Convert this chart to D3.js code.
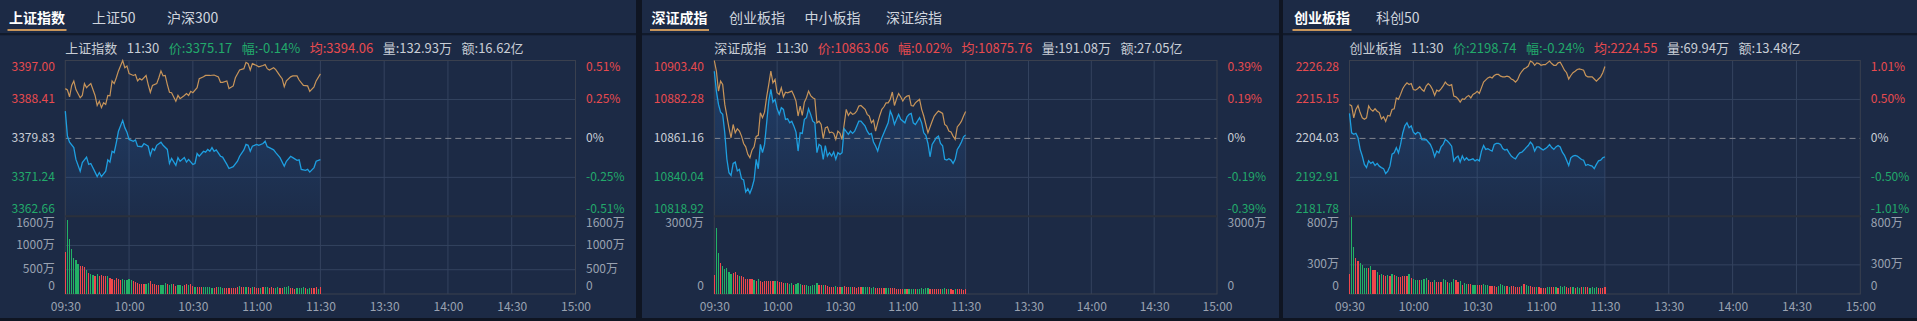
<!DOCTYPE html>
<html>
<head>
<meta charset="utf-8">
<script src="https://cdn.jsdelivr.net/npm/d3@7"></script>
<style>
  html, body { margin: 0; padding: 0; background: #0f1522; overflow: hidden; }
  svg { display: block; font-family: "Noto Sans CJK SC", "Noto Sans", sans-serif; }
</style>
</head>
<body>
<div id="chart"></div>
<script>
const W = 1917
const H = 321

// shared time axis: 240 trading minutes, labels every 30 minutes
const timeTicks = [0, 30, 60, 90, 120, 150, 180, 210, 240]
const timeLabels = ["09:30", "10:00", "10:30", "11:00", "11:30", "13:30", "14:00", "14:30", "15:00"]

// ---------- 上证指数 ----------
const shTabs = ["上证指数", "上证50", "沪深300"]
const shInfo = [["上证指数", "n"], ["11:30", "n"], ["价:3375.17", "g"], ["幅:-0.14%", "g"], ["均:3394.06", "r"], ["量:132.93万", "n"], ["额:16.62亿", "n"]]
const shPriceTicks = [3397.00, 3388.41, 3379.83, 3371.24, 3362.66]
const shPctTicks = ["0.51%", "0.25%", "0%", "-0.25%", "-0.51%"]
const shVolTicks = [1600, 1000, 500, 0]
const shPrice = [[0,3385.85],[1,3380.35],[2,3379.0],[4,3377.8],[5,3375.2],[7,3372.6],[8,3374.5],[10,3375.7],[11,3374.1],[12,3374.3],[14,3372.4],[15,3371.4],[16,3372.3],[17,3371.4],[19,3372.6],[20,3375.1],[21,3374.6],[22,3377.0],[23,3376.7],[24,3378.9],[25,3381.4],[27,3383.8],[28,3382.2],[29,3381.2],[30,3379.6],[32,3379.2],[33,3379.5],[34,3378.1],[36,3378.0],[37,3378.7],[39,3378.1],[40,3376.1],[41,3377.6],[42,3377.2],[43,3378.3],[45,3379.0],[46,3378.3],[48,3377.4],[49,3374.3],[50,3375.4],[52,3373.9],[53,3375.6],[54,3374.8],[56,3375.6],[57,3374.6],[58,3375.2],[60,3374.1],[61,3374.3],[62,3376.5],[63,3375.9],[65,3377.0],[66,3376.8],[67,3377.4],[68,3377.0],[69,3377.8],[70,3377.0],[71,3377.3],[73,3375.9],[74,3375.7],[76,3374.1],[77,3373.2],[79,3373.6],[81,3374.8],[82,3375.9],[84,3377.3],[85,3378.5],[86,3378.3],[87,3377.0],[88,3378.1],[90,3378.5],[91,3378.3],[93,3378.7],[94,3379.2],[95,3378.0],[96,3377.8],[98,3377.3],[99,3376.7],[101,3375.6],[103,3373.7],[104,3374.8],[106,3375.9],[107,3375.6],[109,3375.0],[110,3375.1],[111,3373.0],[113,3372.8],[114,3373.0],[115,3372.4],[117,3373.4],[118,3374.8],[120,3375.17]]
const shAvg = [[0,3390.8],[1,3390.5],[2,3389.0],[3,3391.5],[4,3392.5],[5,3390.6],[7,3388.8],[8,3389.3],[9,3391.9],[10,3391.0],[11,3391.5],[12,3391.9],[13,3390.6],[14,3389.3],[15,3387.1],[16,3388.0],[17,3386.6],[18,3387.7],[19,3387.3],[20,3389.3],[21,3389.2],[22,3392.5],[23,3391.9],[24,3393.2],[25,3394.7],[27,3397.0],[28,3395.4],[29,3395.8],[30,3394.1],[32,3393.7],[33,3393.9],[34,3392.5],[35,3393.0],[36,3392.7],[38,3393.7],[39,3391.7],[40,3390.0],[41,3391.5],[43,3391.9],[44,3393.2],[45,3394.7],[46,3393.6],[47,3393.7],[48,3391.7],[49,3390.0],[50,3389.9],[52,3388.0],[53,3389.3],[54,3388.6],[56,3389.3],[57,3389.7],[58,3389.3],[59,3390.2],[60,3389.9],[62,3391.0],[63,3393.0],[65,3393.4],[66,3393.7],[68,3393.7],[70,3393.8],[72,3393.4],[73,3392.2],[74,3392.2],[76,3392.5],[77,3390.8],[79,3391.4],[80,3393.2],[82,3394.9],[84,3395.2],[85,3396.6],[86,3396.3],[87,3394.9],[88,3396.3],[90,3395.9],[91,3395.6],[93,3395.9],[94,3396.1],[95,3395.2],[96,3394.9],[98,3395.4],[99,3395.0],[101,3393.6],[102,3393.0],[103,3391.2],[104,3392.5],[106,3393.4],[107,3393.6],[109,3393.6],[110,3392.7],[112,3391.5],[114,3391.4],[115,3390.2],[117,3391.2],[118,3392.5],[120,3394.06]]
// volume per minute, 万
const shVol = [872,1514,1129,919,737,690,622,568,568,554,487,433,419,399,365,419,379,385,379,365,379,331,311,297,331,311,297,311,297,297,311,297,264,243,230,210,216,203,210,230,264,196,196,183,176,176,176,230,196,189,196,203,162,189,183,169,176,203,176,203,162,149,149,149,142,142,142,149,142,128,128,135,142,135,128,122,122,128,122,122,128,135,162,142,135,135,142,128,142,135,122,128,128,135,142,135,122,135,122,128,142,122,122,149,142,162,122,122,108,115,115,122,149,115,108,115,115,115,149,108,135]
const shVolColor = "rggggggrrrgrggrgrrrrgrrrrrrgggggrrrrrrggrrrrrgggrggrrgggrrgrrgrrrgggggrrgggrrrrrrrgrrgrrgrrrgrggrrrggrrgggrrrggggrggrrrgr"

// ---------- 深证成指 ----------
const szTabs = ["深证成指", "创业板指", "中小板指", "深证综指"]
const szInfo = [["深证成指", "n"], ["11:30", "n"], ["价:10863.06", "r"], ["幅:0.02%", "r"], ["均:10875.76", "r"], ["量:191.08万", "n"], ["额:27.05亿", "n"]]
const szPriceTicks = [10903.40, 10882.28, 10861.16, 10840.04, 10818.92]
const szPctTicks = ["0.39%", "0.19%", "0%", "-0.19%", "-0.39%"]
const szVolTicks = [3000, 0]
const szPrice = [[0,10897.6],[1,10886.8],[2,10879.6],[3,10875.4],[4,10874.2],[5,10864.2],[6,10850.0],[7,10842.6],[8,10841.1],[9,10847.6],[10,10848.3],[11,10843.5],[12,10844.4],[13,10839.3],[14,10838.6],[15,10832.1],[16,10833.9],[17,10831.4],[18,10834.4],[19,10838.6],[20,10849.8],[21,10844.7],[22,10857.9],[23,10853.4],[24,10857.9],[25,10869.6],[26,10881.4],[27,10887.7],[28,10880.8],[29,10882.3],[30,10877.2],[31,10874.2],[32,10877.8],[33,10876.9],[34,10871.5],[35,10871.8],[36,10869.6],[37,10870.5],[38,10867.8],[39,10864.6],[40,10854.3],[41,10864.2],[42,10863.9],[43,10871.5],[44,10872.4],[45,10877.2],[46,10874.2],[47,10870.5],[48,10869.6],[49,10853.4],[50,10857.9],[51,10857.0],[52,10849.8],[53,10857.2],[54,10851.6],[55,10853.4],[56,10851.6],[57,10853.8],[58,10849.8],[59,10853.4],[60,10852.5],[61,10853.4],[62,10866.4],[64,10863.3],[65,10865.1],[66,10863.9],[67,10865.1],[68,10867.8],[69,10870.5],[70,10870.5],[72,10867.8],[73,10865.1],[74,10863.3],[75,10863.9],[76,10859.2],[77,10857.0],[78,10854.3],[79,10858.4],[80,10861.5],[81,10864.2],[82,10866.9],[83,10869.6],[84,10876.0],[85,10873.3],[86,10868.7],[87,10871.5],[88,10874.2],[89,10871.5],[91,10869.6],[92,10872.9],[93,10874.2],[94,10874.7],[95,10869.6],[96,10868.7],[97,10870.5],[98,10872.4],[99,10869.6],[100,10864.2],[101,10862.8],[102,10858.4],[103,10851.2],[104,10857.9],[105,10859.7],[106,10861.5],[107,10862.4],[108,10858.4],[109,10857.2],[110,10849.8],[111,10849.4],[112,10850.1],[113,10849.4],[114,10847.6],[115,10849.8],[116,10855.2],[117,10857.0],[118,10859.2],[119,10862.0],[120,10863.06]]
const szAvg = [[0,10903.4],[1,10897.6],[2,10886.8],[3,10892.2],[4,10890.4],[5,10879.6],[6,10873.3],[7,10866.9],[8,10861.5],[9,10868.7],[10,10864.2],[11,10866.4],[12,10865.1],[13,10862.4],[14,10858.4],[15,10856.6],[16,10852.5],[17,10850.7],[18,10854.8],[19,10856.6],[20,10862.2],[21,10862.8],[22,10875.1],[23,10872.4],[24,10875.4],[25,10883.7],[26,10890.4],[27,10897.6],[28,10891.3],[29,10893.1],[30,10885.9],[31,10885.0],[32,10888.6],[33,10883.7],[34,10886.2],[35,10885.9],[37,10886.8],[38,10884.4],[39,10881.4],[40,10873.3],[41,10878.7],[42,10873.6],[43,10880.8],[44,10883.2],[45,10886.8],[46,10884.4],[47,10883.2],[48,10882.6],[49,10869.6],[50,10870.5],[51,10868.7],[52,10861.0],[53,10866.9],[54,10867.4],[55,10864.2],[56,10864.6],[57,10863.9],[58,10860.6],[59,10865.1],[60,10863.9],[61,10860.6],[62,10868.7],[63,10876.9],[64,10873.6],[65,10875.4],[66,10874.2],[67,10874.7],[68,10876.0],[69,10878.7],[70,10879.0],[72,10876.9],[73,10874.2],[74,10873.3],[75,10869.6],[76,10871.0],[77,10865.1],[78,10869.6],[79,10873.6],[80,10876.9],[81,10878.3],[82,10880.4],[83,10880.4],[84,10882.3],[85,10886.3],[86,10879.0],[87,10882.6],[88,10885.5],[89,10883.7],[90,10881.4],[91,10883.2],[92,10884.1],[93,10884.4],[94,10879.0],[95,10878.7],[96,10880.4],[97,10881.4],[98,10882.3],[99,10876.9],[100,10873.3],[101,10868.7],[102,10864.2],[104,10870.5],[105,10873.3],[106,10874.7],[107,10876.0],[108,10875.4],[109,10874.7],[110,10868.7],[111,10867.8],[112,10865.1],[113,10864.6],[114,10862.4],[115,10860.6],[116,10867.4],[117,10868.7],[118,10870.5],[119,10873.3],[120,10875.76]]
const szVol = [734,2563,1597,1211,1082,953,1005,850,760,798,850,721,695,695,670,592,567,567,567,541,502,567,502,464,489,502,489,489,502,502,489,476,464,412,438,412,386,412,361,399,438,373,335,335,335,309,309,335,361,412,335,361,335,335,309,283,283,283,309,283,283,283,309,283,270,258,258,258,245,270,270,258,283,258,258,245,258,245,245,232,245,232,245,232,219,232,219,206,206,193,206,193,206,180,193,180,193,206,180,219,206,232,245,206,206,193,180,180,193,180,219,193,206,180,168,206,180,180,180,168,193]
const szVolColor = "rggrgggggrrrgrrrrrrgrgrrrrrrrgrrrrgrggrgggrrggggggrrgrrrrrgrrgrrrgrrrrrgggrggrrrrrggrrrrrrrgrgggrggggggrrrrrrggrgrrgrrrrr"

// ---------- 创业板指 ----------
const cyTabs = ["创业板指", "科创50"]
const cyInfo = [["创业板指", "n"], ["11:30", "n"], ["价:2198.74", "g"], ["幅:-0.24%", "g"], ["均:2224.55", "r"], ["量:69.94万", "n"], ["额:13.48亿", "n"]]
const cyPriceTicks = [2226.28, 2215.15, 2204.03, 2192.91, 2181.78]
const cyPctTicks = ["1.01%", "0.50%", "0%", "-0.50%", "-1.01%"]
const cyVolTicks = [800, 300, 0]
const cyPrice = [[0,2211.16],[1,2205.6],[2,2205.2],[3,2205.5],[4,2204.2],[5,2200.9],[6,2199.0],[7,2196.6],[8,2195.7],[9,2197.6],[10,2196.9],[11,2197.3],[12,2196.3],[13,2196.9],[14,2196.1],[15,2195.7],[16,2195.4],[17,2194.0],[18,2194.7],[19,2196.1],[20,2199.5],[21,2199.9],[22,2201.4],[23,2199.9],[24,2202.3],[25,2205.5],[26,2207.6],[27,2208.5],[28,2207.1],[29,2207.6],[30,2205.8],[31,2205.2],[32,2205.8],[33,2205.5],[34,2203.7],[35,2203.6],[36,2203.7],[37,2203.0],[38,2202.3],[39,2200.9],[40,2198.8],[41,2200.4],[42,2199.9],[43,2201.6],[44,2202.3],[45,2203.7],[46,2203.3],[47,2202.6],[48,2201.8],[49,2197.6],[50,2198.5],[51,2199.0],[52,2197.3],[53,2199.0],[54,2197.8],[55,2198.5],[56,2197.8],[57,2198.0],[58,2198.2],[59,2197.6],[60,2198.0],[61,2197.6],[62,2200.4],[63,2202.0],[64,2200.9],[65,2201.1],[66,2200.7],[67,2200.4],[68,2202.3],[69,2202.6],[70,2202.6],[71,2202.3],[72,2201.1],[73,2200.7],[74,2200.9],[75,2199.9],[76,2199.0],[77,2198.5],[78,2198.2],[79,2199.2],[80,2199.9],[81,2200.1],[82,2200.7],[83,2201.4],[84,2202.0],[85,2203.0],[86,2202.3],[87,2200.4],[88,2201.6],[89,2201.6],[90,2201.1],[91,2200.7],[92,2201.1],[93,2201.6],[94,2202.3],[95,2201.4],[96,2200.9],[97,2201.6],[98,2202.0],[99,2201.6],[100,2200.1],[101,2199.2],[102,2197.8],[103,2196.3],[104,2198.5],[105,2199.0],[106,2199.2],[107,2199.0],[108,2198.5],[109,2198.0],[110,2197.8],[111,2196.3],[112,2196.6],[113,2196.3],[114,2196.1],[115,2195.4],[116,2196.6],[117,2197.6],[118,2197.8],[119,2198.5],[120,2198.74]]
const cyAvg = [[0,2213.7],[1,2213.3],[2,2209.9],[3,2212.3],[4,2213.4],[5,2211.4],[6,2209.9],[7,2209.5],[8,2209.9],[9,2213.3],[10,2212.3],[11,2211.8],[12,2212.5],[13,2211.8],[14,2211.4],[15,2209.6],[16,2210.2],[17,2208.9],[18,2210.6],[19,2210.4],[20,2212.3],[21,2212.5],[22,2215.6],[23,2215.2],[24,2216.6],[25,2218.2],[26,2219.2],[27,2219.9],[28,2219.4],[29,2219.7],[30,2218.0],[31,2217.8],[32,2218.2],[33,2218.8],[34,2218.0],[35,2217.5],[36,2219.0],[37,2219.7],[38,2219.1],[39,2218.0],[40,2216.3],[41,2217.8],[42,2217.5],[43,2218.2],[44,2219.0],[45,2220.1],[46,2219.4],[47,2219.1],[48,2219.4],[49,2216.1],[50,2215.9],[51,2215.3],[52,2214.4],[53,2215.3],[54,2215.2],[55,2215.9],[56,2216.3],[57,2215.6],[58,2216.6],[59,2216.9],[60,2217.5],[61,2216.9],[63,2220.1],[65,2221.3],[66,2221.6],[67,2221.3],[68,2222.0],[69,2222.3],[70,2222.3],[71,2221.8],[72,2221.6],[73,2221.6],[74,2221.8],[75,2221.6],[76,2221.0],[77,2220.7],[78,2220.1],[79,2220.8],[80,2222.3],[81,2223.2],[82,2223.9],[83,2224.2],[84,2224.7],[85,2226.1],[86,2225.8],[87,2224.9],[88,2225.6],[89,2225.4],[90,2224.9],[91,2225.1],[92,2225.1],[93,2225.6],[94,2226.1],[95,2225.4],[96,2224.9],[97,2224.9],[98,2225.6],[99,2225.8],[100,2224.7],[101,2223.5],[102,2222.8],[103,2221.0],[104,2222.0],[105,2222.8],[106,2223.2],[107,2223.7],[108,2223.9],[109,2223.7],[110,2223.5],[111,2222.0],[112,2221.6],[113,2221.6],[114,2221.6],[115,2221.0],[116,2220.4],[117,2221.0],[118,2221.6],[119,2222.8],[120,2224.55]]
const cyVol = [202,789,479,374,344,324,297,270,263,270,290,243,243,222,192,209,195,189,195,182,202,195,189,175,175,182,189,182,202,169,155,142,142,148,142,158,169,148,128,128,142,128,128,121,155,142,128,115,121,155,142,128,135,94,115,108,101,98,94,88,94,94,88,108,94,88,81,81,81,74,81,108,88,81,81,74,81,81,74,74,71,81,108,94,81,81,74,67,67,67,61,61,61,67,74,67,67,74,64,81,74,81,67,61,67,71,61,67,61,67,74,67,71,64,74,64,67,61,61,61,67]
const cyVolColor = "rggrrggggrgrrgrgrrgrgrgrrrrrgrgggrgggrrrgrrrggrgggrrgrggrrggrrrgggrrrrggggrgrrrrrgrggrrrgrrrrggrrgrgggrrrgrggrgrrggggrrrr"

// colours
const C = {
  page: "#0f1522", panel: "#1c2a45", sep: "#111a2b",
  red: "#e84a4f", green: "#22a96b", neutral: "#c9ced6", axis: "#9aa2b1",
  grid: "#34435f", frame: "#3a404e", price: "#1e9fe0", avg: "#c8955a",
  barRed: "#f0474b", barGreen: "#23b166", tab: "#c8955a"
}
const textColor = k => k === "r" ? C.red : k === "g" ? C.green : C.neutral
const tickColorKeys = ["r", "r", "n", "g", "g"]

// layout for the three panels
const panels = [
  { left: 0, right: 636, plotL: 65.3, plotR: 575.5, tabX: [9, 92, 167], tabs: shTabs, info: shInfo,
    priceTicks: shPriceTicks, pctTicks: shPctTicks, volTicks: shVolTicks, price: shPrice, avg: shAvg, vol: shVol, volColor: shVolColor },
  { left: 642, right: 1279, plotL: 714.3, plotR: 1217, tabX: [651.5, 729, 804.5, 886], tabs: szTabs, info: szInfo,
    priceTicks: szPriceTicks, pctTicks: szPctTicks, volTicks: szVolTicks, price: szPrice, avg: szAvg, vol: szVol, volColor: szVolColor },
  { left: 1283, right: 1917, plotL: 1349.5, plotR: 1860.3, tabX: [1294, 1376], tabs: cyTabs, info: cyInfo,
    priceTicks: cyPriceTicks, pctTicks: cyPctTicks, volTicks: cyVolTicks, price: cyPrice, avg: cyAvg, vol: cyVol, volColor: cyVolColor }
]

const priceTop = 60.5, priceBottom = 216.3, volBottom = 294

const svg = d3.select("#chart").append("svg")
  .attr("width", W).attr("height", H)

svg.append("rect").attr("width", W).attr("height", H).attr("fill", C.page)
const defs = svg.append("defs")

panels.forEach((p, k) => {
  const g = svg.append("g")

  g.append("rect")
    .attr("x", p.left).attr("y", 0)
    .attr("width", p.right - p.left).attr("height", 318)
    .attr("fill", C.panel)

  g.append("rect")
    .attr("x", p.left).attr("y", 33)
    .attr("width", p.right - p.left).attr("height", 2.3)
    .attr("fill", C.sep)

  // tabs
  p.tabs.forEach((t, i) => {
    const txt = g.append("text")
      .attr("x", p.tabX[i]).attr("y", 17)
      .attr("dominant-baseline", "central")
      .attr("font-size", 14)
      .attr("font-weight", i === 0 ? 700 : 400)
      .attr("fill", i === 0 ? "#ffffff" : "#cfd5de")
      .text(t)
    if (i === 0) {
      const len = txt.node().getComputedTextLength()
      g.append("rect")
        .attr("x", p.tabX[i] - 1.5).attr("y", 29)
        .attr("width", len + 3).attr("height", 2)
        .attr("fill", C.tab)
    }
  })

  // info line
  const info = g.append("text")
    .attr("x", p.plotL).attr("y", 47)
    .attr("dominant-baseline", "central")
    .attr("font-size", 13)
  p.info.forEach((s, i) => {
    info.append("tspan")
      .attr("dx", i === 0 ? 0 : 9.5)
      .attr("fill", textColor(s[1]))
      .text(s[0])
  })

  // scales
  const x = d3.scaleLinear().domain([0, 240]).range([p.plotL, p.plotR])
  const y = d3.scaleLinear()
    .domain([p.priceTicks[p.priceTicks.length - 1], p.priceTicks[0]])
    .range([priceBottom, priceTop])
  const yv = d3.scaleLinear().domain([0, p.volTicks[0]]).range([volBottom, priceBottom])

  // grid
  const grid = g.append("g").attr("stroke", C.grid).attr("stroke-width", 1)
  timeTicks.slice(1, -1).forEach(t => {
    grid.append("line")
      .attr("x1", x(t)).attr("x2", x(t))
      .attr("y1", priceTop).attr("y2", volBottom)
  })
  ;[p.priceTicks[1], p.priceTicks[3]].forEach(v => {
    grid.append("line")
      .attr("x1", p.plotL).attr("x2", p.plotR)
      .attr("y1", y(v)).attr("y2", y(v))
  })
  p.volTicks.slice(1, -1).forEach(v => {
    grid.append("line")
      .attr("x1", p.plotL).attr("x2", p.plotR)
      .attr("y1", yv(v)).attr("y2", yv(v))
  })

  // area under price line
  const gradId = "grad" + k
  const grad = defs.append("linearGradient")
    .attr("id", gradId)
    .attr("gradientUnits", "userSpaceOnUse")
    .attr("x1", 0).attr("x2", 0).attr("y1", priceTop).attr("y2", priceBottom)
  grad.append("stop").attr("offset", 0).attr("stop-color", "#2a6bb8").attr("stop-opacity", 0.32)
  grad.append("stop").attr("offset", 1).attr("stop-color", "#2a6bb8").attr("stop-opacity", 0.04)

  g.append("path")
    .datum(p.price)
    .attr("fill", `url(#${gradId})`)
    .attr("d", d3.area().x(d => x(d[0])).y0(priceBottom).y1(d => y(d[1])))

  // previous close
  g.append("line")
    .attr("x1", p.plotL).attr("x2", p.plotR)
    .attr("y1", y(p.priceTicks[2])).attr("y2", y(p.priceTicks[2]))
    .attr("stroke", "#80858f").attr("stroke-dasharray", "6,4")

  // frame
  g.append("rect")
    .attr("x", p.plotL).attr("y", priceTop)
    .attr("width", p.plotR - p.plotL).attr("height", volBottom - priceTop)
    .attr("fill", "none").attr("stroke", C.frame)
  g.append("line")
    .attr("x1", p.plotL).attr("x2", p.plotR)
    .attr("y1", priceBottom).attr("y2", priceBottom)
    .attr("stroke", "#2b303b").attr("stroke-width", 2)

  // lines
  const line = d3.line().x(d => x(d[0])).y(d => y(d[1]))
  g.append("path").datum(p.avg)
    .attr("fill", "none").attr("stroke", C.avg).attr("stroke-width", 1.2)
    .attr("d", line)
  g.append("path").datum(p.price)
    .attr("fill", "none").attr("stroke", C.price).attr("stroke-width", 1.3)
    .attr("d", line)

  // volume bars
  g.append("g").selectAll("rect")
    .data(p.vol)
    .join("rect")
      .attr("x", (d, i) => x(i) - 0.6)
      .attr("width", 1.2)
      .attr("y", d => yv(d))
      .attr("height", d => volBottom - yv(d))
      .attr("shape-rendering", "crispEdges")
      .attr("fill", (d, i) => p.volColor[i] === "g" ? C.barGreen : C.barRed)

  // price axes (left values, right percent)
  const yOffset = (i, n) => i === 0 ? 6.5 : i === n - 1 ? -8 : -1
  const styleAxis = (sel, colorFn, n) => {
    sel.attr("font-family", null).attr("font-size", 12)
    sel.select(".domain").remove()
    sel.selectAll(".tick line").remove()
    sel.selectAll(".tick text")
      .attr("y", (d, i) => yOffset(i, n))
      .attr("fill", colorFn)
  }

  g.append("g")
    .attr("transform", `translate(${p.plotL},0)`)
    .call(d3.axisLeft(y).tickValues(p.priceTicks).tickSize(0).tickPadding(10.5).tickFormat(d => d.toFixed(2)))
    .call(sel => styleAxis(sel, (d, i) => textColor(tickColorKeys[i]), p.priceTicks.length))

  g.append("g")
    .attr("transform", `translate(${p.plotR},0)`)
    .call(d3.axisRight(y).tickValues(p.priceTicks).tickSize(0).tickPadding(10.5).tickFormat((d, i) => p.pctTicks[i]))
    .call(sel => styleAxis(sel, (d, i) => textColor(tickColorKeys[i]), p.priceTicks.length))

  // volume axes
  const volFmt = d => d === 0 ? "0" : d + "万"
  g.append("g")
    .attr("transform", `translate(${p.plotL},0)`)
    .call(d3.axisLeft(yv).tickValues(p.volTicks).tickSize(0).tickPadding(10.5).tickFormat(volFmt))
    .call(sel => styleAxis(sel, C.axis, p.volTicks.length))
  g.append("g")
    .attr("transform", `translate(${p.plotR},0)`)
    .call(d3.axisRight(yv).tickValues(p.volTicks).tickSize(0).tickPadding(10.5).tickFormat(volFmt))
    .call(sel => styleAxis(sel, C.axis, p.volTicks.length))

  // time axis
  g.append("g")
    .attr("transform", `translate(0,${volBottom})`)
    .call(d3.axisBottom(x).tickValues(timeTicks).tickSize(0).tickPadding(8).tickFormat((d, i) => timeLabels[i]))
    .call(sel => {
      sel.attr("font-family", null).attr("font-size", 12)
      sel.select(".domain").remove()
      sel.selectAll(".tick text").attr("fill", C.axis)
    })
})
</script>
</body>
</html>
